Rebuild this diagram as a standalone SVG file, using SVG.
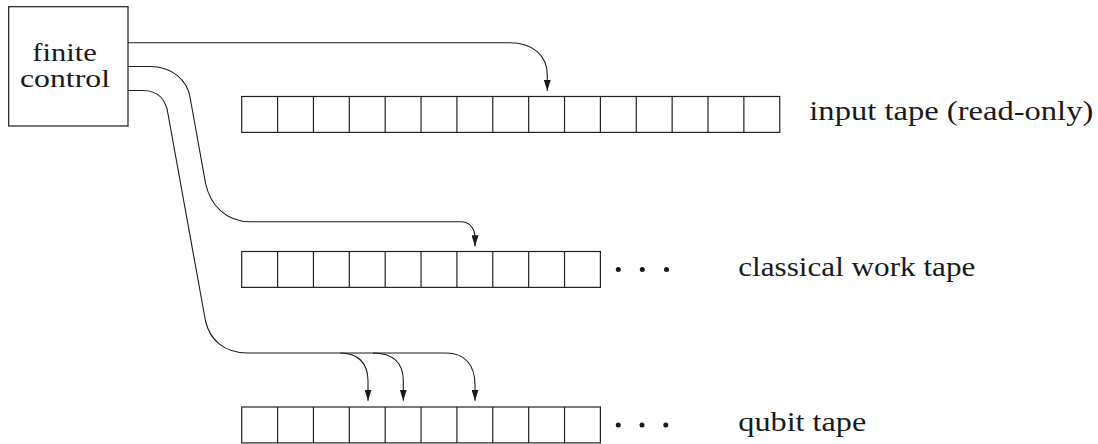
<svg xmlns="http://www.w3.org/2000/svg" width="1098" height="444" viewBox="0 0 1098 444">
<style>
.box{fill:#fff;stroke:#1a1a1a;stroke-width:1.2}
.cell{fill:#fff;stroke:#222;stroke-width:1.2}
.div{fill:none;stroke:#222;stroke-width:1.2}
.wire{fill:none;stroke:#1a1a1a;stroke-width:1.1}
.lbl{font-family:'Liberation Serif','DejaVu Serif',serif;font-size:28px;fill:#1a1a1a}
.fc{font-family:'Liberation Serif','DejaVu Serif',serif;font-size:26px;fill:#1a1a1a}
.dot{fill:#1a1a1a}
</style>
<defs>
<marker id="ah" viewBox="0 0 11 7" refX="11" refY="3.5" markerWidth="11" markerHeight="7" markerUnits="userSpaceOnUse" orient="auto">
<path d="M0,0 L11,3.5 L0,7 z" fill="#1a1a1a"/>
</marker>
</defs>
<g id="finite-control">
<rect class="box" x="8.7" y="6.7" width="119.3" height="119.3"/>
<text class="fc" x="32.3" y="61" textLength="64.4" lengthAdjust="spacingAndGlyphs">finite</text>
<text class="fc" x="20" y="87.3" textLength="90" lengthAdjust="spacingAndGlyphs">control</text>
</g>
<g id="input-tape">
<rect class="cell" x="241.7" y="96.5" width="538.05" height="35.9"/>
<path class="div" d="M277.57,96.5V132.4M313.44,96.5V132.4M349.31,96.5V132.4M385.18,96.5V132.4M421.05,96.5V132.4M456.92,96.5V132.4M492.79,96.5V132.4M528.66,96.5V132.4M564.53,96.5V132.4M600.4,96.5V132.4M636.27,96.5V132.4M672.14,96.5V132.4M708.01,96.5V132.4M743.88,96.5V132.4"/>
<text class="lbl" x="809.3" y="120" textLength="284" lengthAdjust="spacingAndGlyphs">input tape (read-only)</text>
</g>
<g id="classical-work-tape">
<rect class="cell" x="241.7" y="251.5" width="358.7" height="35.9"/>
<path class="div" d="M277.57,251.5V287.4M313.44,251.5V287.4M349.31,251.5V287.4M385.18,251.5V287.4M421.05,251.5V287.4M456.92,251.5V287.4M492.79,251.5V287.4M528.66,251.5V287.4M564.53,251.5V287.4"/>
<circle class="dot" cx="618.3" cy="269.5" r="2.5"/>
<circle class="dot" cx="642.3" cy="269.5" r="2.5"/>
<circle class="dot" cx="666.5" cy="269.5" r="2.5"/>
<text class="lbl" x="738.3" y="275.5" textLength="237" lengthAdjust="spacingAndGlyphs">classical work tape</text>
</g>
<g id="qubit-tape">
<rect class="cell" x="241.7" y="407" width="358.7" height="35.9"/>
<path class="div" d="M277.57,407V442.9M313.44,407V442.9M349.31,407V442.9M385.18,407V442.9M421.05,407V442.9M456.92,407V442.9M492.79,407V442.9M528.66,407V442.9M564.53,407V442.9"/>
<circle class="dot" cx="618.3" cy="425" r="2.5"/>
<circle class="dot" cx="642" cy="425" r="2.5"/>
<circle class="dot" cx="665.8" cy="425" r="2.5"/>
<text class="lbl" x="738.3" y="431" textLength="128" lengthAdjust="spacingAndGlyphs">qubit tape</text>
</g>
<g id="connectors">
<path class="wire" marker-end="url(#ah)" d="M128,42.7 H510 C532,42.7 547.3,55 547.3,75 V90.8"/>
<path class="wire" marker-end="url(#ah)" d="M128,66.5 H150 C172,66.5 187,80 190,97 L205.5,183 C210,205 226,221.7 250,221.7 H461 C470,221.7 475,229 475,238 V246.3"/>
<path class="wire" marker-end="url(#ah)" d="M128,90.5 H143 C158,90.5 166,100 168,114 L205.5,321 C210,340 224,353 248,353 H446 C465,353 475,365 475,385 V400.8"/>
<path class="wire" marker-end="url(#ah)" d="M340,353 C358,353 368,363 368,381 V400.8"/>
<path class="wire" marker-end="url(#ah)" d="M373,353 C393,353 403.3,363 403.3,381 V400.8"/>
</g>
</svg>
